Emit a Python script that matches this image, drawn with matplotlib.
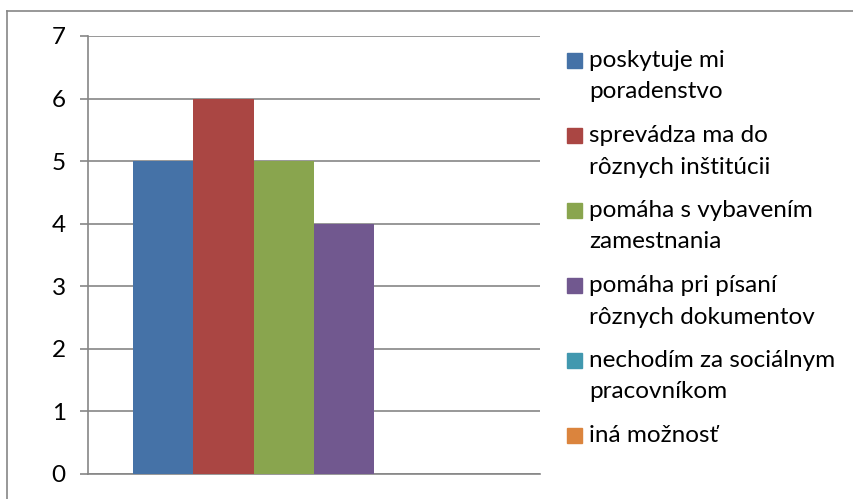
import matplotlib
matplotlib.use('Agg')
import matplotlib.pyplot as plt
from matplotlib.lines import Line2D
from matplotlib.patches import Rectangle

# data
series = ['poskytuje mi\nporadenstvo',
          'sprevádza ma do\nrôznych inštitúcii',
          'pomáha s vybavením\nzamestnania',
          'pomáha pri písaní\nrôznych dokumentov',
          'nechodím za sociálnym\npracovníkom',
          'iná možnosť']
values = [5, 6, 5, 4, 0, 0]
colors = ['#4572A7', '#AA4643', '#89A54E', '#71588F', '#4198AF', '#DB843D']
yticks = [0, 1, 2, 3, 4, 5, 6, 7]

W, H = 854, 499
plt.rcParams['font.family'] = ['Lato', 'DejaVu Sans']
fig = plt.figure(figsize=(W / 100, H / 100), dpi=100)
grid_col = '#868686'

# plot area in pixels (left, top, right, bottom)
L, T, R, B = 88, 36, 540, 474
ax = fig.add_axes([L / W, 1 - B / H, (R - L) / W, (B - T) / H])

n = len(values)
w = 1 / (n + 1.5)
start = -0.5 + 0.75 * w
for i, (v, c) in enumerate(zip(values, colors)):
    ax.bar(start + w * (i + 0.5), v, width=w, color=c, zorder=3)

ax.set_xlim(-0.5, 0.5)
ax.set_ylim(0, 7)
ax.set_yticks(yticks)
ax.set_yticklabels([str(t) for t in yticks], fontsize=17.5)
ax.set_xticks([])
ax.yaxis.grid(True, color=grid_col, linewidth=1.2, zorder=0)
ax.tick_params(axis='y', length=6, width=1.2, color=grid_col, pad=10)
for s in ['top', 'right']:
    ax.spines[s].set_visible(False)
for s in ['left', 'bottom']:
    ax.spines[s].set_color(grid_col)
    ax.spines[s].set_linewidth(1.2)

# legend drawn by hand, px from the top
def px(x, y):
    return x / W, 1 - y / H

for i, (lab, c) in enumerate(zip(series, colors)):
    base = 67 + 75 * i
    x0, y0 = px(567, base + 1)
    fig.patches.append(Rectangle((x0, y0), 15 / W, 15 / H, color=c,
                                 transform=fig.transFigure, figure=fig))
    for k, line in enumerate(lab.split('\n')):
        tx, ty = px(589, base + 31.5 * k)
        fig.text(tx, ty, line, fontsize=17.5, va='baseline', ha='left')

# outer frame (left and top edges only visible)
fig.add_artist(Line2D([7.5 / W, 7.5 / W], [0, 1 - 11 / H], color=grid_col,
                      linewidth=1.2, transform=fig.transFigure))
fig.add_artist(Line2D([7.5 / W, 1], [1 - 11 / H, 1 - 11 / H], color=grid_col,
                      linewidth=1.2, transform=fig.transFigure))

fig.savefig('out.png', dpi=100)
